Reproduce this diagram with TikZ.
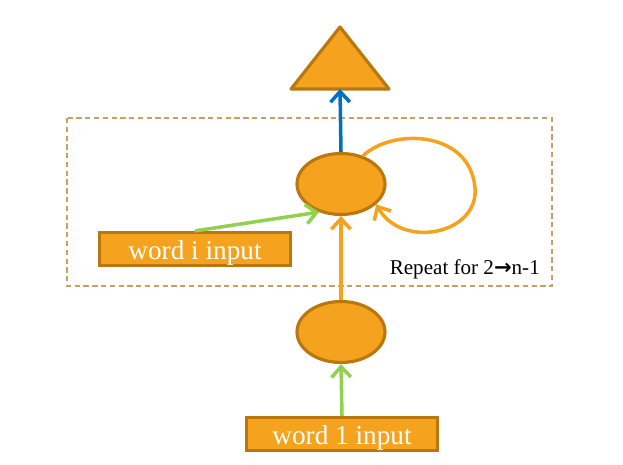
\documentclass[tikz,border=0pt]{standalone}
\usepackage{fontspec}
\setmainfont{Liberation Serif}
\newfontfamily\arrowfont{DejaVu Sans}
\usetikzlibrary{shapes.geometric,arrows.meta,positioning}
\definecolor{unitfill}{HTML}{F5A31F}
\definecolor{unitedge}{HTML}{B9770E}
\definecolor{outblue}{HTML}{0070C0}
\definecolor{ingreen}{HTML}{92D050}
\definecolor{boxdash}{HTML}{C9A064}
\begin{document}
\begin{tikzpicture}[x=0.02cm,y=-0.02cm,
  unit/.style = {ellipse, draw=unitedge, fill=unitfill, line width=1.8pt, minimum width=1.76cm, minimum height=1.22cm},
  inbox/.style = {rectangle, draw=unitedge, fill=unitfill, line width=1.8pt, minimum width=3.82cm, minimum height=0.66cm, text=white, font=\fontsize{15.5}{18}\selectfont, inner sep=0pt, text height=11.5pt, text depth=0pt},
  link/.style = {line width=2pt, -{Straight Barb[length=6pt,width=11pt,line width=2pt]}}]
\useasboundingbox (0,0) rectangle (623,465);
% repeat region
\draw[boxdash, dashed, line width=0.7pt, dash pattern=on 3pt off 2pt] (67,118) rectangle (552,286);
\node[font=\fontsize{12}{14}\selectfont, anchor=base east] (rep) at (546,275) {Repeat for 2{\arrowfont\bfseries →}n-1};
% output triangle
\coordinate (top) at (340,27);
\coordinate (tri) at (340,89);
\draw[unitedge, fill=unitfill, line width=1.8pt, line join=round] (top) -- (389,89) -- (291,89) -- cycle;
% units and inputs
\node[unit] (h2) at (341,184) {};
\node[unit] (h1) at (341,332) {};
\node[inbox] (wi) at (195,249) {word i input};
\node[inbox] (w1) at (342,434) {word 1 input};

\draw[link, outblue] (h2.north) -- (tri);
\draw[link, unitfill] (h1.north) -- (h2.south);
\draw[link, ingreen] (w1.north) -- (h1.south);
\draw[link, ingreen] (wi.north) -- (h2.-128);
\draw[link, unitfill] (h2.52) .. controls (392,128) and (470,130) .. (475,188)
  .. controls (479,234) and (402,250) .. (h2.-30);

\end{tikzpicture}
\end{document}
